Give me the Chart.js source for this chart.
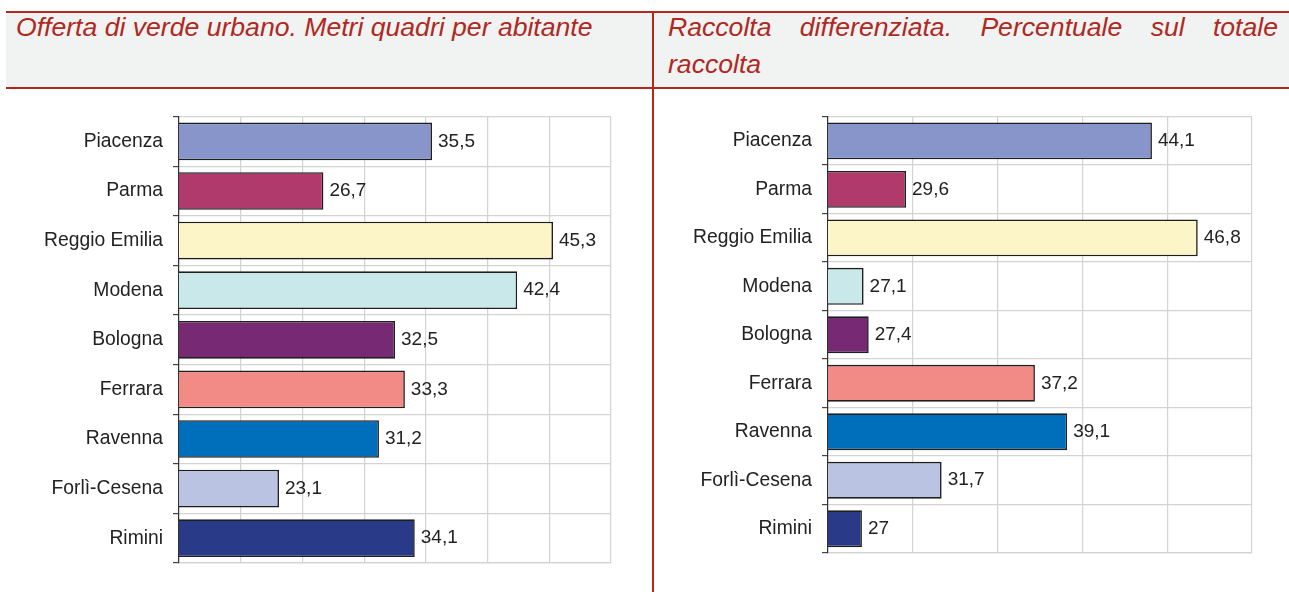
<!DOCTYPE html>
<html>
<head>
<meta charset="utf-8">
<script src="https://cdn.jsdelivr.net/npm/chart.js@4/dist/chart.umd.min.js"></script>
<style>
  body { margin: 0; background: #fff; width: 1289px; height: 592px; overflow: hidden; position: relative; font-family: "Liberation Sans", Arial, sans-serif; }
  #band { position: absolute; left: 6px; top: 11px; width: 1283px; height: 74px; background: #f1f2f2; border-top: 2px solid #b3271d; border-bottom: 2px solid #b3271d; }
  #divider { position: absolute; left: 652px; top: 11px; width: 2px; height: 581px; background: #b3271d; }
  .title { position: absolute; top: 9px; font-style: italic; font-size: 26.6px; line-height: 37px; color: #b0281e; }
  #t1 { left: 16px; white-space: nowrap; }
  #t2 { left: 668px; width: 610px; text-align: justify; }
  canvas { position: absolute; }
  #c1 { left: 0px; top: 95px; }
  #c2 { left: 660px; top: 95px; }
</style>
</head>
<body>
<div id="band"></div>
<div id="divider"></div>
<div class="title" id="t1">Offerta di verde urbano. Metri quadri per abitante</div>
<div class="title" id="t2">Raccolta differenziata. Percentuale sul totale raccolta</div>
<canvas id="c1" width="650" height="490"></canvas>
<canvas id="c2" width="629" height="490"></canvas>
<script>
const cities = ['Piacenza', 'Parma', 'Reggio Emilia', 'Modena', 'Bologna', 'Ferrara', 'Ravenna', 'Forlì-Cesena', 'Rimini']
const verde = [35.5, 26.7, 45.3, 42.4, 32.5, 33.3, 31.2, 23.1, 34.1]
const differenziata = [44.1, 29.6, 46.8, 27.1, 27.4, 37.2, 39.1, 31.7, 27]
const colours = ['#8795cb', '#b13a6d', '#fbf5c7', '#c8e8ea', '#782973', '#f28a85', '#006fbb', '#bbc3e3', '#283a88']

const FONT = '"Liberation Sans", Arial, sans-serif'

// draw the values at the end of each bar, italian decimal comma
const valueLabels = {
    id: 'valueLabels',
    afterDatasetsDraw(chart) {
        const ctx = chart.ctx
        const meta = chart.getDatasetMeta(0)
        ctx.save()
        ctx.font = '19px ' + FONT
        ctx.fillStyle = '#222'
        ctx.textBaseline = 'middle'
        meta.data.forEach((bar, i) => {
            let v = chart.data.datasets[0].data[i]
            ctx.fillText(String(v).replace('.', ','), bar.x + 6, bar.y)
        })
        ctx.restore()
    }
}

function make_chart(id, values, min, max, axisX, pad) {
    let ctx = document.getElementById(id).getContext('2d')
    return new Chart(ctx, {
        type: 'bar',
        data: {
            labels: cities,
            datasets: [{
                data: values,
                backgroundColor: colours,
                borderColor: '#1e1e1e',
                borderWidth: 1.6,
                borderSkipped: false,
                categoryPercentage: 1,
                barPercentage: 0.76
            }]
        },
        plugins: [valueLabels],
        options: {
            indexAxis: 'y',
            responsive: false,
            animation: false,
            devicePixelRatio: 1,
            layout: { padding: pad },
            plugins: {
                legend: { display: false },
                tooltip: { enabled: false }
            },
            scales: {
                x: {
                    min: min,
                    max: max,
                    ticks: { display: false, stepSize: 5 },
                    grid: { color: '#d3d3d3', lineWidth: 1.2, drawTicks: false },
                    border: { color: '#d3d3d3', width: 1.2 },
                    afterFit: (s) => { s.height = 0 }
                },
                y: {
                    ticks: { color: '#222', font: { family: FONT, size: 19.3 }, padding: 10 },
                    grid: { offset: true, color: '#d3d3d3', lineWidth: 1.2, tickLength: 6, tickColor: '#444' },
                    border: { color: '#333', width: 1.2 },
                    afterFit: (s) => { s.width = axisX }
                }
            }
        }
    })
}

make_chart('c1', verde, 15, 50, 179, { top: 18, right: 39, bottom: 22, left: 0 })
make_chart('c2', differenziata, 25, 50, 168, { top: 18, right: 37, bottom: 32, left: 0 })
</script>
</body>
</html>
